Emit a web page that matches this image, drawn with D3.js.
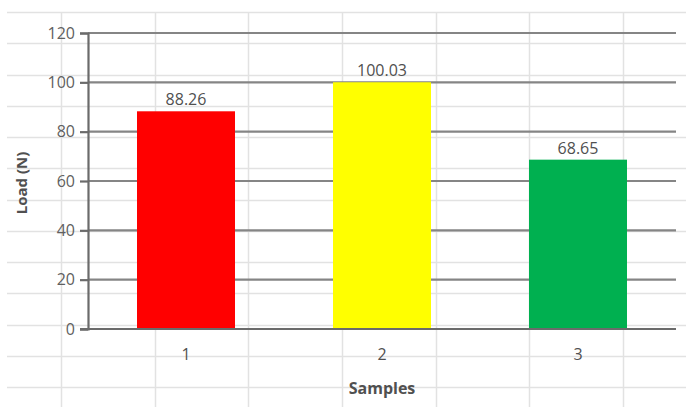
<!DOCTYPE html>
<html>
<head>
<meta charset="utf-8">
<script src="https://cdn.jsdelivr.net/npm/d3@7"></script>
<style>
  html, body { margin: 0; padding: 0; background: #ffffff; }
  svg { display: block; }
</style>
</head>
<body>
<svg id="chart" width="686" height="407"></svg>
<script>
// ---- data ----
const categories = ["1", "2", "3"];
const loads = [88.26, 100.03, 68.65];
const barColors = ["#ff0000", "#ffff00", "#00b050"];
const yTicks = [0, 20, 40, 60, 80, 100, 120];
const yTitle = "Load (N)";
const xTitle = "Samples";

const W = 686, H = 407;
const margin = { left: 88, right: 10, top: 33, bottom: 78 };
const svg = d3.select("#chart");

// ---- faint spreadsheet cell grid in the background ----
const cellRows = d3.range(0, 13);
const cellCols = d3.range(0, 7);
const rowY = d3.scaleLinear().domain([0, 12]).range([12, 387]);
const colX = d3.scaleLinear().domain([0, 6]).range([61, 623]);
const bg = svg.append("g");
bg.selectAll("line.r").data(cellRows).join("line")
  .attr("x1", 7).attr("x2", W)
  .attr("y1", d => Math.round(rowY(d)) + 0.5).attr("y2", d => Math.round(rowY(d)) + 0.5)
  .attr("stroke", "#e2e2e2").attr("stroke-width", 1.5);
bg.selectAll("line.c").data(cellCols).join("line")
  .attr("y1", 12).attr("y2", H)
  .attr("x1", d => Math.round(colX(d)) + 0.5).attr("x2", d => Math.round(colX(d)) + 0.5)
  .attr("stroke", "#e2e2e2").attr("stroke-width", 1.5);

// ---- scales ----
const x = d3.scaleBand().domain(categories)
  .range([margin.left, 676]).paddingInner(0.5).paddingOuter(0.25);
const y = d3.scaleLinear().domain([0, 120]).range([329, 33]);

// ---- gridlines ----
svg.append("g").selectAll("line").data(yTicks.filter(d => d > 0)).join("line")
  .attr("x1", margin.left).attr("x2", 676)
  .attr("y1", d => y(d)).attr("y2", d => y(d))
  .attr("stroke", "#858585").attr("stroke-width", 2.2);

// ---- bars ----
svg.append("g").selectAll("rect").data(loads).join("rect")
  .attr("x", (d, i) => x(categories[i]))
  .attr("width", x.bandwidth())
  .attr("y", d => y(d))
  .attr("height", d => y(0) - y(d))
  .attr("fill", (d, i) => barColors[i]);

// ---- value labels ----
svg.append("g").selectAll("text").data(loads).join("text")
  .attr("x", (d, i) => x(categories[i]) + x.bandwidth() / 2)
  .attr("y", d => y(d) - 6)
  .attr("text-anchor", "middle")
  .attr("font-family", "Open Sans, sans-serif")
  .attr("font-size", 16)
  .attr("fill", "#505050")
  .text(d => d.toFixed(2));

// ---- y axis ----
const yAxis = svg.append("g").attr("transform", `translate(${margin.left},0)`)
  .call(d3.axisLeft(y).tickValues(yTicks).tickSize(8).tickPadding(5).tickFormat(d3.format("d")));
yAxis.select(".domain").attr("stroke", "#6b6b6b").attr("stroke-width", 2.2);
yAxis.selectAll(".tick line").attr("stroke", "#6b6b6b").attr("stroke-width", 2.2);
yAxis.selectAll(".tick text")
  .attr("font-family", "Open Sans, sans-serif").attr("font-size", 16).attr("fill", "#606060");

// ---- x axis ----
const xAxis = svg.append("g").attr("transform", `translate(0,${y(0)})`)
  .call(d3.axisBottom(x).tickSize(0).tickPadding(20));
xAxis.select(".domain").attr("stroke", "#6b6b6b").attr("stroke-width", 2.2)
  .attr("d", `M80,0H676`);
xAxis.selectAll(".tick text")
  .attr("font-family", "Open Sans, sans-serif").attr("font-size", 16).attr("fill", "#505050");

// ---- axis titles ----
svg.append("text")
  .attr("x", x(categories[1]) + x.bandwidth() / 2).attr("y", 394)
  .attr("text-anchor", "middle")
  .attr("font-family", "Open Sans, sans-serif").attr("font-weight", "bold")
  .attr("font-size", 16).attr("fill", "#505050")
  .text(xTitle);
svg.append("text")
  .attr("transform", "translate(27,183) rotate(-90)")
  .attr("text-anchor", "middle")
  .attr("font-family", "Open Sans, sans-serif").attr("font-weight", "bold")
  .attr("font-size", 15).attr("fill", "#505050")
  .text(yTitle);
</script>
</body>
</html>
